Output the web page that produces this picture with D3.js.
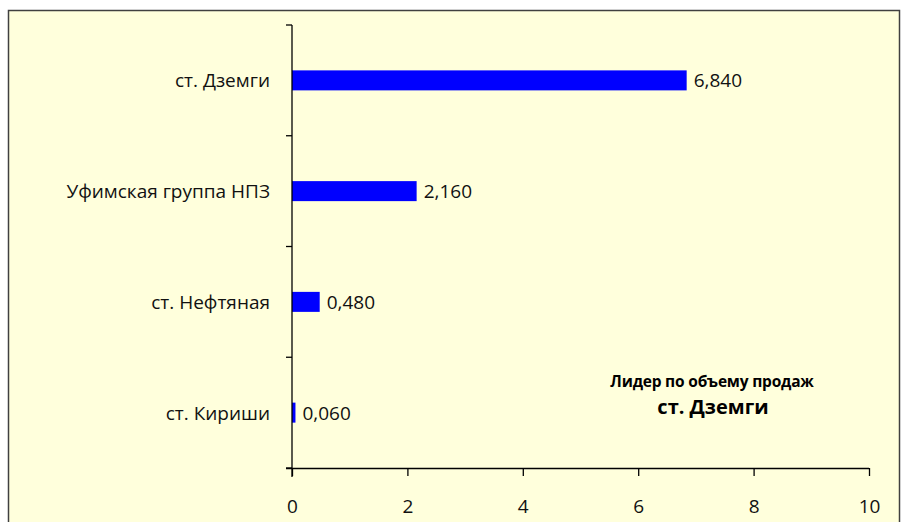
<!DOCTYPE html>
<html><head><meta charset="utf-8">
<script src="https://cdn.jsdelivr.net/npm/d3@7"></script>
<style>body{margin:0;background:#fff}</style>
</head><body>
<svg id="c" width="903" height="522"></svg>
<script>
const categories = ["ст. Дземги", "Уфимская группа НПЗ", "ст. Нефтяная", "ст. Кириши"];
const values = [6.840, 2.160, 0.480, 0.060];
const valueLabels = ["6,840", "2,160", "0,480", "0,060"];
const xTicks = [0, 2, 4, 6, 8, 10];
const noteLine1 = "Лидер по объему продаж";
const noteLine2 = "ст. Дземги";

const svg = d3.select("#c");
const font = "'Open Sans', 'Noto Sans', sans-serif";
svg.append("rect").attr("x", 8.5).attr("y", 10.5).attr("width", 891).attr("height", 520)
  .attr("fill", "#FFFFDC").attr("stroke", "#404040").attr("stroke-width", 1.5);

const x = d3.scaleLinear().domain([0, 10]).range([292, 869]);
const y = d3.scaleBand().domain(categories).range([25, 468]).paddingInner(0).paddingOuter(0);

// bars
const barH = 20;
svg.selectAll("rect.bar").data(values).enter().append("rect")
  .attr("x", x(0)).attr("y", (d, i) => y(categories[i]) + y.bandwidth() / 2 - barH / 2)
  .attr("width", d => x(d) - x(0)).attr("height", barH).attr("fill", "#0000FF");

// value labels
svg.selectAll("text.val").data(values).enter().append("text")
  .attr("x", d => x(d) + 7).attr("y", (d, i) => y(categories[i]) + y.bandwidth() / 2 + 7)
  .attr("font-family", font).attr("font-size", 19).attr("fill", "#111")
  .text((d, i) => valueLabels[i]);

// y axis
const yAxisG = svg.append("g");
yAxisG.append("line").attr("x1", x(0)).attr("x2", x(0)).attr("y1", 25).attr("y2", 477)
  .attr("stroke", "#000").attr("stroke-width", 1.3);
const yTickPos = categories.map(c => y(c)).concat([y.range()[1]]);
yAxisG.selectAll("line.yt").data(yTickPos).enter().append("line")
  .attr("x1", x(0) - 6).attr("x2", x(0)).attr("y1", d => d).attr("y2", d => d)
  .attr("stroke", "#000").attr("stroke-width", 1.3);
yAxisG.selectAll("text.cat").data(categories).enter().append("text")
  .attr("x", 270).attr("y", d => y(d) + y.bandwidth() / 2 + 7)
  .attr("text-anchor", "end").attr("font-family", font).attr("font-size", 19).attr("fill", "#111")
  .text(d => d);

// x axis
const xAxis = d3.axisBottom(x).tickValues(xTicks).tickSize(8).tickFormat(d3.format("d"));
const xg = svg.append("g").attr("transform", "translate(0,468)").call(xAxis);
xg.select(".domain").attr("stroke", "#000").attr("stroke-width", 1.3).attr("d", `M${x(0)-6},0.5H${x(10)}`);
xg.selectAll(".tick line").attr("stroke", "#000").attr("stroke-width", 1.3);
xg.selectAll(".tick text").attr("font-family", font).attr("font-size", 19).attr("fill", "#111").attr("dy", "0").attr("y", 45);

// annotation
svg.append("text").attr("x", 712).attr("y", 387).attr("text-anchor", "middle")
  .attr("font-family", font).attr("font-size", 15.5).attr("font-weight", "bold").attr("letter-spacing", -0.2)
  .text(noteLine1);
svg.append("text").attr("x", 713).attr("y", 414).attr("text-anchor", "middle")
  .attr("font-family", font).attr("font-size", 20).attr("font-weight", "bold")
  .text(noteLine2);
</script>
</body></html>
